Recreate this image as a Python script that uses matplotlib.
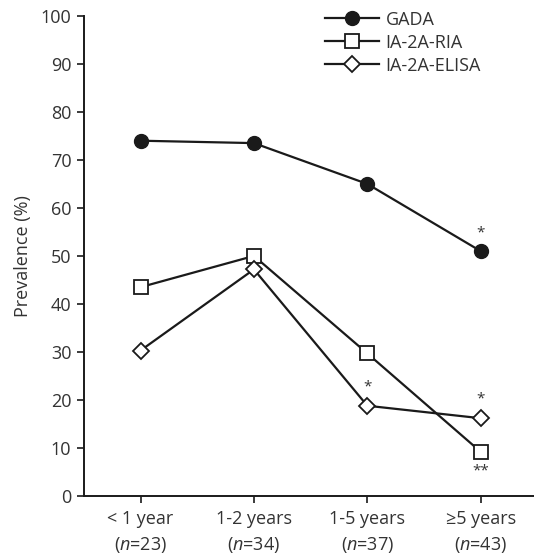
import matplotlib
matplotlib.use('Agg')
import matplotlib.pyplot as plt

plt.rcParams['font.family'] = ['Open Sans', 'DejaVu Sans']
plt.rcParams['mathtext.fontset'] = 'custom'
plt.rcParams['mathtext.rm'] = 'Open Sans'
plt.rcParams['mathtext.it'] = 'Open Sans:italic'

# data
groups = ['< 1 year', '1-2 years', '1-5 years', '\u22655 years']
n_values = [23, 34, 37, 43]
gada = [74, 73.5, 65, 51]
ia2a_ria = [43.5, 50, 29.7, 9.2]
ia2a_elisa = [30.3, 47.2, 18.8, 16.2]

x = list(range(len(groups)))

fig = plt.figure(figsize=(5.34, 5.57), dpi=100)
ax = fig.add_axes([0.157, 0.1095, 0.843, 0.862])

ax.plot(x, gada, color='#1a1a1a', lw=1.6, marker='o', ms=10,
        mfc='#1a1a1a', mec='#1a1a1a', label='GADA', zorder=3)
ax.plot(x, ia2a_ria, color='#1a1a1a', lw=1.6, marker='s', ms=9.5,
        mfc='white', mec='#1a1a1a', mew=1.3, label='IA-2A-RIA', zorder=3)
ax.plot(x, ia2a_elisa, color='#1a1a1a', lw=1.6, marker='D', ms=8.5,
        mfc='white', mec='#1a1a1a', mew=1.3, label='IA-2A-ELISA', zorder=3)

# significance marks
star_kw = dict(ha='center', va='center', fontsize=11, color='#333333')
ax.text(x[3], gada[3] + 3.8, '*', **star_kw)
ax.text(x[2], ia2a_elisa[2] + 4.0, '*', **star_kw)
ax.text(x[3], ia2a_elisa[3] + 4.0, '*', **star_kw)
ax.text(x[3], ia2a_ria[3] - 4.0, '**', **star_kw)

ax.set_xlim(-0.5, 3.47)
ax.set_ylim(0, 100)
ax.set_yticks(range(0, 101, 10))
ax.set_xticks(x)
ax.set_xticklabels(['%s\n($\\it{n}$=%d)' % (g, n) for g, n in zip(groups, n_values)],
                   linespacing=1.45)
ax.tick_params(axis='both', direction='out', length=5, width=1.2,
               labelsize=13, colors='#1a1a1a', labelcolor='#333333')
ax.tick_params(axis='x', pad=5)
ax.tick_params(axis='y', pad=4)
ax.set_ylabel('Prevalence (%)', fontsize=13, color='#333333', labelpad=6)

for side in ['top', 'right']:
    ax.spines[side].set_visible(False)
for side in ['left', 'bottom']:
    ax.spines[side].set_linewidth(1.4)
    ax.spines[side].set_color('#1a1a1a')

ax.legend(loc='upper left', bbox_to_anchor=(0.5, 1.045), frameon=False,
          fontsize=13, handlelength=3.0, handletextpad=0.35,
          labelspacing=0.28, labelcolor='#333333')

fig.savefig('out.png', dpi=100)
